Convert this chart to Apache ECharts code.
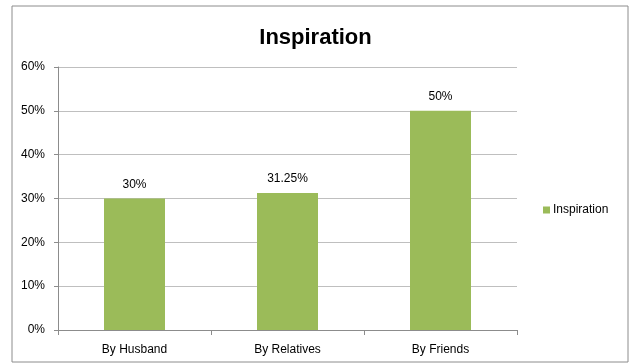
<!DOCTYPE html>
<html>
<head>
<meta charset="utf-8">
<script src="https://cdn.jsdelivr.net/npm/echarts@6/dist/echarts.min.js"></script>
<style>
  html, body { margin: 0; padding: 0; background: #ffffff; }
  #chart { width: 631px; height: 364px; }
</style>
</head>
<body>
<div id="chart"></div>
<script>
// Share of inspiration sources, in percent
const categories = ['By Husband', 'By Relatives', 'By Friends'];
const inspiration = [30, 31.25, 50];
const yTicks = { min: 0, max: 60, step: 10 };

const FONT = '"Liberation Sans", "DejaVu Sans", sans-serif';
const chart = echarts.init(document.getElementById('chart'), null, { renderer: 'canvas' });

chart.setOption({
  backgroundColor: '#ffffff',
  animation: false,
  graphic: [{
    type: 'rect',
    shape: { x: 12, y: 6, width: 616, height: 356 },
    style: { fill: 'none', stroke: '#8c8c8c', lineWidth: 1 },
    silent: true
  }],
  title: {
    text: 'Inspiration',
    left: 'center',
    top: 22,
    textStyle: { fontFamily: FONT, fontSize: 22, fontWeight: 'bold', color: '#000000' }
  },
  legend: {
    data: ['Inspiration'],
    orient: 'vertical',
    left: 538,
    top: 199,
    itemWidth: 7,
    itemHeight: 7,
    itemGap: 4,
    icon: 'rect',
    textStyle: { fontFamily: FONT, fontSize: 12, color: '#000000', padding: [0, 0, 0, -2] }
  },
  grid: { left: 58, right: 114, top: 67, bottom: 34, containLabel: false },
  xAxis: {
    type: 'category',
    data: categories,
    axisLine: { lineStyle: { color: '#8c8c8c', width: 1 } },
    axisTick: { show: true, alignWithLabel: false, length: 5, lineStyle: { color: '#8c8c8c' } },
    axisLabel: { fontFamily: FONT, fontSize: 12, color: '#000000', margin: 14 },
    splitLine: { show: false }
  },
  yAxis: {
    type: 'value',
    min: yTicks.min,
    max: yTicks.max,
    interval: yTicks.step,
    axisLine: { show: true, lineStyle: { color: '#8c8c8c', width: 1 } },
    axisTick: { show: true, length: 4, lineStyle: { color: '#8c8c8c' } },
    axisLabel: { fontFamily: FONT, fontSize: 12, color: '#000000', margin: 13, formatter: '{value}%' },
    splitLine: { show: true, lineStyle: { color: '#bfbfbf', width: 1 } }
  },
  series: [{
    name: 'Inspiration',
    type: 'bar',
    data: inspiration,
    barWidth: 61,
    itemStyle: { color: '#9bbb59' },
    label: {
      show: true,
      position: 'top',
      distance: 8,
      formatter: p => p.value + '%',
      fontFamily: FONT,
      fontSize: 12,
      color: '#000000'
    }
  }]
});
</script>
</body>
</html>
